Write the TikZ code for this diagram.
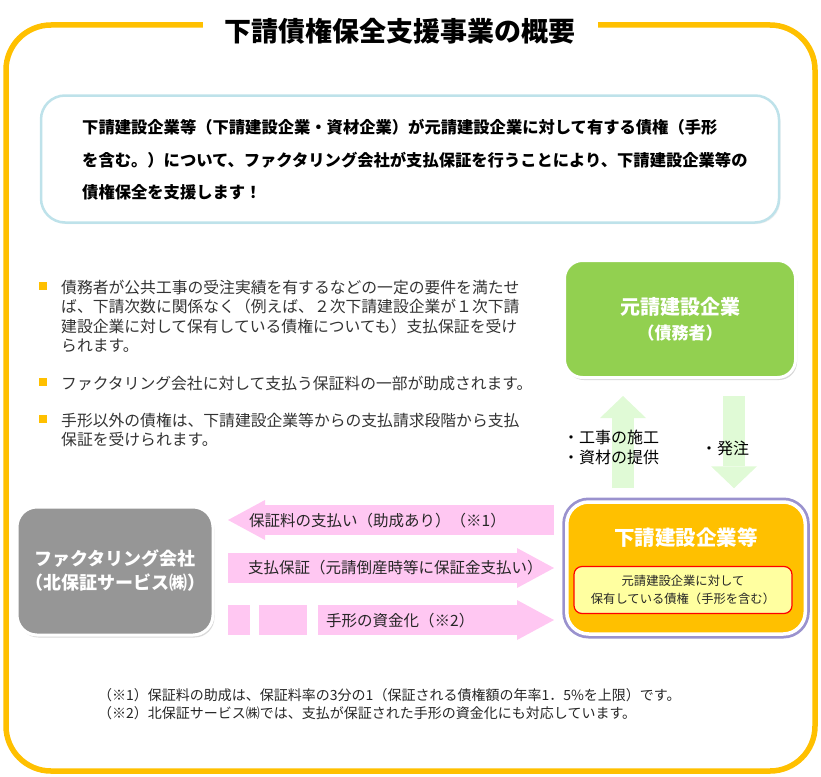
\documentclass[tikz,border=0pt]{standalone}
\usepackage{fontspec}
\setmainfont{Noto Sans CJK JP}
\usepackage{tikz}
\usetikzlibrary{calc}
\usetikzlibrary{arrows.meta,shadows,shapes}
\usetikzlibrary{positioning}
\definecolor{frame}{RGB}{255,192,0}
\definecolor{skyline}{RGB}{190,226,234}
\definecolor{leaf}{RGB}{146,208,80}
\definecolor{stone}{RGB}{150,150,150}
\definecolor{mint}{RGB}{224,250,214}
\definecolor{blush}{RGB}{255,199,242}
\definecolor{cream}{RGB}{255,255,160}
\definecolor{haze}{RGB}{120,110,190}

\begin{document}
\begin{tikzpicture}[x=1pt,y=-1pt,
    box/.style={draw=white, line width=3pt, rounded corners=18pt, inner sep=0pt,
                text=white, align=center},
    headtext/.style={font=\bfseries\fontsize{16.3}{32.5}\selectfont, align=left, inner sep=0pt, anchor=west},
    notetext/.style={font=\fontsize{15.8}{19.5}\selectfont, align=left, text=black!80, inner sep=0pt, anchor=west},
    flowtext/.style={font=\fontsize{15.5}{19}\selectfont, text=black!85, inner sep=0pt, anchor=west},
    marker/.style={fill=frame, minimum size=8pt, inner sep=0pt},
    pinkarrow/.style={draw=blush, line width=30pt, -{Triangle[length=37pt,width=40pt,line width=0pt]}},
    greenarrow/.style={draw=mint, line width=22pt, -{Triangle[length=22pt,width=46pt,line width=0pt]}}]
    \useasboundingbox (0,0) rectangle (821,776);

    % outer frame and title
    \draw[frame, line width=5.5pt, rounded corners=45pt] (6,25) rectangle (815,771);
    \node[font=\bfseries\fontsize{27}{30}\selectfont, fill=white, inner xsep=22pt, inner ysep=4pt] (title) at (400,31) {下請債権保全支援事業の概要};

    % summary
    \node[draw=skyline, line width=2.5pt, rounded corners=24pt, fill=white, minimum width=738pt, minimum height=127pt,
          drop shadow={shadow xshift=1.5pt, shadow yshift=-1.5pt, opacity=0.12}] (summary) at (410,159) {};
    \node[headtext] (summarytext) at (82,160) {下請建設企業等（下請建設企業・資材企業）が元請建設企業に対して有する債権（手形\\を含む。）について、ファクタリング会社が支払保証を行うことにより、下請建設企業等の\\債権保全を支援します！};

    % notes
    \node[marker] (dot1) at (43,286) {};
    \node[notetext] (note1) at (61,316.5) {債務者が公共工事の受注実績を有するなどの一定の要件を満たせ\\ば、下請次数に関係なく（例えば、２次下請建設企業が１次下請\\建設企業に対して保有している債権についても）支払保証を受け\\られます。};
    \node[marker] (dot2) at (43,382) {};
    \node[notetext] (note2) at (61,383) {ファクタリング会社に対して支払う保証料の一部が助成されます。};
    \node[marker] (dot3) at (43,419) {};
    \node[notetext] (note3) at (61,430) {手形以外の債権は、下請建設企業等からの支払請求段階から支払\\保証を受けられます。};

    % parties
    \node[box, fill=leaf, minimum width=231pt, minimum height=117pt, font=\bfseries\fontsize{20}{25}\selectfont,
          drop shadow={shadow xshift=1.5pt, shadow yshift=-2.5pt, opacity=0.3}] (prime) at (680,319)
          {元請建設企業\\{\fontsize{17}{25}\selectfont （債務者）}};
    \node[box, fill=frame, line width=3.5pt, rounded corners=22pt, minimum width=238.5pt, minimum height=132pt,
          preaction={draw=haze, line width=9pt, opacity=0.75}] (sub) at (686,568) {};
    \node[font=\bfseries\fontsize{20.5}{24}\selectfont, text=white, inner sep=0pt] (subtitle) at (686,538) {下請建設企業等};
    \node[draw=red, line width=1.2pt, fill=cream, rounded corners=8pt, minimum width=218pt, minimum height=47pt,
          align=center, font=\fontsize{12.3}{18}\selectfont, text=black!85, inner sep=0pt] (claim) at (683,590)
          {元請建設企業に対して\\保有している債権（手形を含む）};
    \node[box, fill=stone, rounded corners=20pt, minimum width=196pt, minimum height=128pt, font=\bfseries\fontsize{18}{24}\selectfont,
          drop shadow={shadow xshift=1.5pt, shadow yshift=-2.5pt, opacity=0.3}] (factor) at (115,571)
          {ファクタリング会社\\（北保証サービス㈱）};

    % work and orders
    \draw[greenarrow, shorten <=12pt, shorten >=17pt] (sub.north -| 623,0) -- (prime.south -| 623,0);
    \draw[greenarrow, shorten <=17pt, shorten >=12pt] (prime.south -| 734,0) -- (sub.north -| 734,0);
    \node[notetext, text=black, font=\fontsize{16}{19.5}\selectfont] (worklabel) at (563,447.5) {・工事の施工\\・資材の提供};
    \node[notetext, text=black, font=\fontsize{16}{19.5}\selectfont] (orderlabel) at (701,448) {・発注};

    % guarantee flows
    \draw[pinkarrow, shorten <=11pt, shorten >=13.5pt] (sub.west |- 0,520) -- (factor.east |- 0,520);
    \draw[pinkarrow, shorten <=13.5pt, shorten >=11pt] (factor.east |- 0,568) -- (sub.west |- 0,568);
    \fill[blush] (228,605) rectangle (250,635);
    \fill[blush] (259,605) rectangle (307,635);
    \draw[pinkarrow, shorten <=103.5pt, shorten >=11pt] (factor.east |- 0,620) -- (sub.west |- 0,620);
    \node[flowtext] (feelabel) at (249,521) {保証料の支払い（助成あり）（※1）};
    \node[flowtext] (guarlabel) at (248,568) {支払保証（元請倒産時等に保証金支払い）};
    \node[flowtext] (billlabel) at (326,621) {手形の資金化（※2）};

    % footnotes
    \node[font=\fontsize{14}{18.5}\selectfont, align=left, anchor=west, text=black!85, inner sep=0pt] (footnote) at (98,704)
          {（※1）保証料の助成は、保証料率の3分の1（保証される債権額の年率1．5\%を上限）です。\\（※2）北保証サービス㈱では、支払が保証された手形の資金化にも対応しています。};
\end{tikzpicture}
\end{document}
